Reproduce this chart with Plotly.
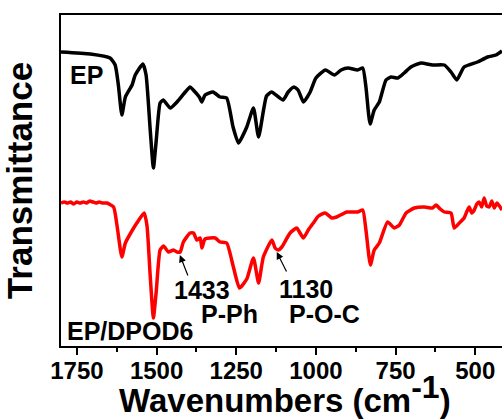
import plotly.graph_objects as go

# Wavenumbers (cm-1) and transmittance (arbitrary units)
ep_wn = [1800, 1708, 1646, 1630, 1620, 1609, 1598, 1577, 1567, 1543, 1533, 1520, 1510, 1501,
         1489, 1479, 1457, 1436, 1410, 1395, 1385, 1366, 1358, 1348, 1323, 1301, 1280, 1260,
         1243, 1217, 1196, 1180, 1155, 1139, 1103, 1087, 1069, 1056, 1039, 1018, 1000, 970,
         942, 921, 899, 869, 853, 843, 830, 817, 801, 780, 764, 743, 723, 702, 670, 634, 597,
         576, 558, 535, 493, 461, 435, 416]
ep_t = [294, 292, 288, 281, 261, 231, 249, 261, 271, 282, 271, 216, 178, 206,
        243, 246, 238, 244, 254, 259, 256, 249, 244, 251, 254, 249, 248, 219,
        203, 219, 238, 209, 250, 254, 246, 254, 259, 256, 244, 254, 268, 276,
        271, 276, 278, 276, 278, 259, 222, 236, 244, 266, 269, 268, 273, 279, 283, 281, 281,
        274, 266, 279, 284, 289, 291, 295]

dp_wn = [1800, 1790, 1780, 1770, 1760, 1750, 1740, 1730, 1720, 1710, 1700, 1690, 1680, 1670,
         1656, 1635, 1624, 1609, 1598, 1572, 1562, 1539, 1530, 1520, 1510, 1501, 1489, 1478,
         1463, 1447, 1436, 1426, 1416, 1395, 1384, 1374, 1363, 1358, 1348, 1316, 1301, 1280,
         1259, 1240, 1217, 1196, 1180, 1165, 1138, 1128, 1118, 1107, 1081, 1060, 1050, 1039,
         1024, 1008, 992, 971, 950, 935, 903, 869, 853, 843, 829, 817, 801, 775, 754, 738,
         717, 691, 660, 634, 623, 610, 597, 576, 566, 550, 535, 527, 519, 511, 503, 495, 488,
         480, 472, 464, 456, 448, 440, 432, 424, 416]
dp_t = [143, 144, 143, 144, 142, 144, 143, 144, 143, 145, 144, 143, 144, 143,
        143, 139, 120, 89, 103, 118, 123, 133, 120, 70, 28, 55, 96, 100,
        94, 96, 94, 94, 104, 113, 113, 106, 108, 98, 107, 108, 104, 103,
        79, 58, 67, 88, 63, 89, 106, 98, 96, 99, 113, 118, 113, 108,
        116, 123, 130, 133, 128, 129, 134, 134, 136, 116, 81, 96, 103, 124, 118, 121,
        133, 138, 139, 138, 141, 137, 134, 133, 118, 123, 128, 134, 139, 133, 136, 142, 144,
        139, 148, 140, 139, 145, 138, 143, 140, 136]

tick_vals = [1750, 1500, 1250, 1000, 750, 500]
tick_text = ["1750", "1500", "1250", "1000", "750", "500"]

X_RANGE = [1800, 416]
FONT = "Liberation Sans, Arial, sans-serif"

fig = go.Figure()
fig.add_trace(go.Scatter(x=ep_wn, y=ep_t, mode="lines", name="EP", xaxis="x", yaxis="y",
                         line=dict(color="black", width=3.5, shape="spline", smoothing=0.5)))
fig.add_trace(go.Scatter(x=dp_wn, y=dp_t, mode="lines", name="EP/DPOD6", xaxis="x2", yaxis="y",
                         line=dict(color="#ff0000", width=3.5, shape="spline", smoothing=0.5)))

txt = dict(family=FONT, size=25, color="black", weight="bold")
ann = [
    dict(x=1719, y=271, text="EP", showarrow=False, font=txt),
    dict(x=1584, y=15, text="EP/DPOD6", showarrow=False, font=txt),
    dict(x=1358, y=56, text="1433", showarrow=False, font=txt),
    dict(x=1272, y=32, text="P-Ph", showarrow=False, font=txt),
    dict(x=1031, y=57, text="1130", showarrow=False, font=txt),
    dict(x=973, y=32, text="P-O-C", showarrow=False, font=txt),
    dict(x=1427, y=91, ax=1400, ay=69, axref="x", ayref="y", text="", showarrow=True,
         arrowhead=2, arrowsize=1.2, arrowwidth=1.2, arrowcolor="black"),
    dict(x=1123, y=94, ax=1090, ay=73, axref="x", ayref="y", text="", showarrow=True,
         arrowhead=2, arrowsize=1.2, arrowwidth=1.2, arrowcolor="black"),
]
for a in ann:
    a.setdefault("xref", "x")
    a.setdefault("yref", "y")
ann.append(dict(xref="paper", yref="paper", x=0.509, y=-0.063, xanchor="center", yanchor="top",
                text="Wavenumbers (cm<sup><span style=\"font-size:32px\">-1</span></sup>)",
                showarrow=False,
                font=dict(family=FONT, size=33, color="black", weight="bold")))
fig.update_layout(annotations=ann)

fig.update_layout(
    width=502, height=419,
    margin=dict(l=61, r=0, t=15, b=73),
    paper_bgcolor="white", plot_bgcolor="white",
    showlegend=False,
    xaxis=dict(range=X_RANGE, showgrid=False, zeroline=False,
               showline=True, linecolor="black", linewidth=2, mirror=True,
               ticks="outside", ticklen=7, tickwidth=2, tickcolor="black",
               tickvals=tick_vals, showticklabels=False,
               minor=dict(ticks="outside", ticklen=4, tickwidth=2, tickcolor="black",
                          dtick=125, tick0=0, showgrid=False)),
    xaxis2=dict(range=X_RANGE, overlaying="x", anchor="y", side="bottom",
                showgrid=False, zeroline=False, showline=False, ticks="",
                tickvals=tick_vals, ticktext=tick_text, ticklabelstandoff=8,
                tickfont=dict(family=FONT, size=24, color="black", weight="bold")),
    yaxis=dict(range=[0, 331], showgrid=False, zeroline=False,
               showline=True, linecolor="black", linewidth=2, mirror=False,
               ticks="", showticklabels=False,
               title=dict(text="Transmittance",
                          font=dict(family=FONT, size=35, color="black", weight="bold"),
                          standoff=17)),
)

fig.write_html("out.html")
